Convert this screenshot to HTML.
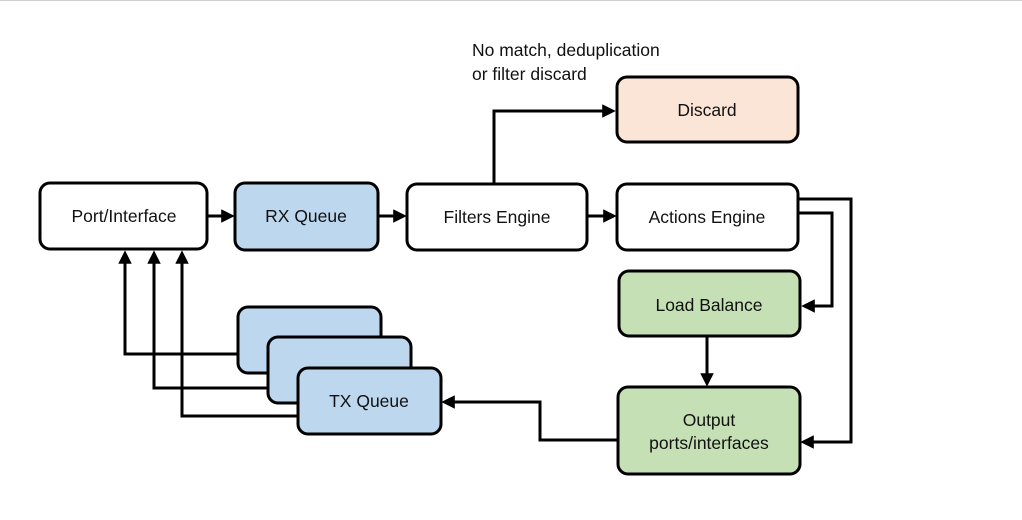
<!DOCTYPE html>
<html><head><meta charset="utf-8"><style>
html,body{margin:0;padding:0;background:#fff}
svg{display:block}
text{font-family:"Liberation Sans",sans-serif;font-size:17.5px;fill:#111}
</style></head><body>
<svg width="1022" height="520" viewBox="0 0 1022 520" xmlns="http://www.w3.org/2000/svg">
<defs>
<marker id="a" markerWidth="4.5" markerHeight="4.5" refX="3.6" refY="2.25" orient="auto" markerUnits="strokeWidth">
<path d="M0,0 L4.5,2.25 L0,4.5 z" fill="#000"/>
</marker>
</defs>
<line x1="0" y1="0.5" x2="1022" y2="0.5" stroke="#d0d0d0" stroke-width="1"/>
<g stroke="#000" stroke-width="3" fill="none">
<line x1="208" y1="216" x2="232" y2="216" marker-end="url(#a)"/>
<line x1="379" y1="216" x2="404" y2="216" marker-end="url(#a)"/>
<line x1="588" y1="216" x2="614" y2="216" marker-end="url(#a)"/>
<polyline points="494,183 494,111 613,111" marker-end="url(#a)"/>
<polyline points="799,199 851,199 851,442 803,442" marker-end="url(#a)"/>
<polyline points="799,213 832,213 832,306 804,306" marker-end="url(#a)"/>
<line x1="707" y1="337" x2="707" y2="384" marker-end="url(#a)"/>
<polyline points="618,440 540,440 540,402 444,402" marker-end="url(#a)"/>
<polyline points="238,354 125,354 125,253" marker-end="url(#a)"/>
<polyline points="268,388 154,388 154,253" marker-end="url(#a)"/>
<polyline points="298,416 182,416 182,253" marker-end="url(#a)"/>
</g>
<g stroke="#000" stroke-width="3">
<rect x="40" y="183" width="167" height="66" rx="10" fill="#fff"/>
<rect x="235" y="183" width="143" height="67" rx="10" fill="#bdd7ee"/>
<rect x="407" y="184" width="180" height="66" rx="10" fill="#fff"/>
<rect x="617" y="184" width="181" height="66" rx="10" fill="#fff"/>
<rect x="617" y="77" width="181" height="65" rx="10" fill="#fbe5d6"/>
<rect x="619" y="271" width="181" height="65" rx="10" fill="#c5e0b4"/>
<rect x="618" y="387" width="182" height="87" rx="10" fill="#c5e0b4"/>
<rect x="238" y="307" width="143" height="66" rx="10" fill="#bdd7ee"/>
<rect x="268" y="337" width="143" height="66" rx="10" fill="#bdd7ee"/>
<rect x="298" y="368" width="143" height="66" rx="10" fill="#bdd7ee"/>
</g>
<g text-anchor="middle">
<text x="124" y="222">Port/Interface</text>
<text x="306" y="222">RX Queue</text>
<text x="497" y="223">Filters Engine</text>
<text x="707" y="223">Actions Engine</text>
<text x="707" y="116">Discard</text>
<text x="709" y="311">Load Balance</text>
<text x="709" y="426">Output</text>
<text x="709" y="449">ports/interfaces</text>
<text x="369" y="407">TX Queue</text>
</g>
<text x="472" y="56">No match, deduplication</text>
<text x="472" y="80">or filter discard</text>
</svg>
</body></html>
